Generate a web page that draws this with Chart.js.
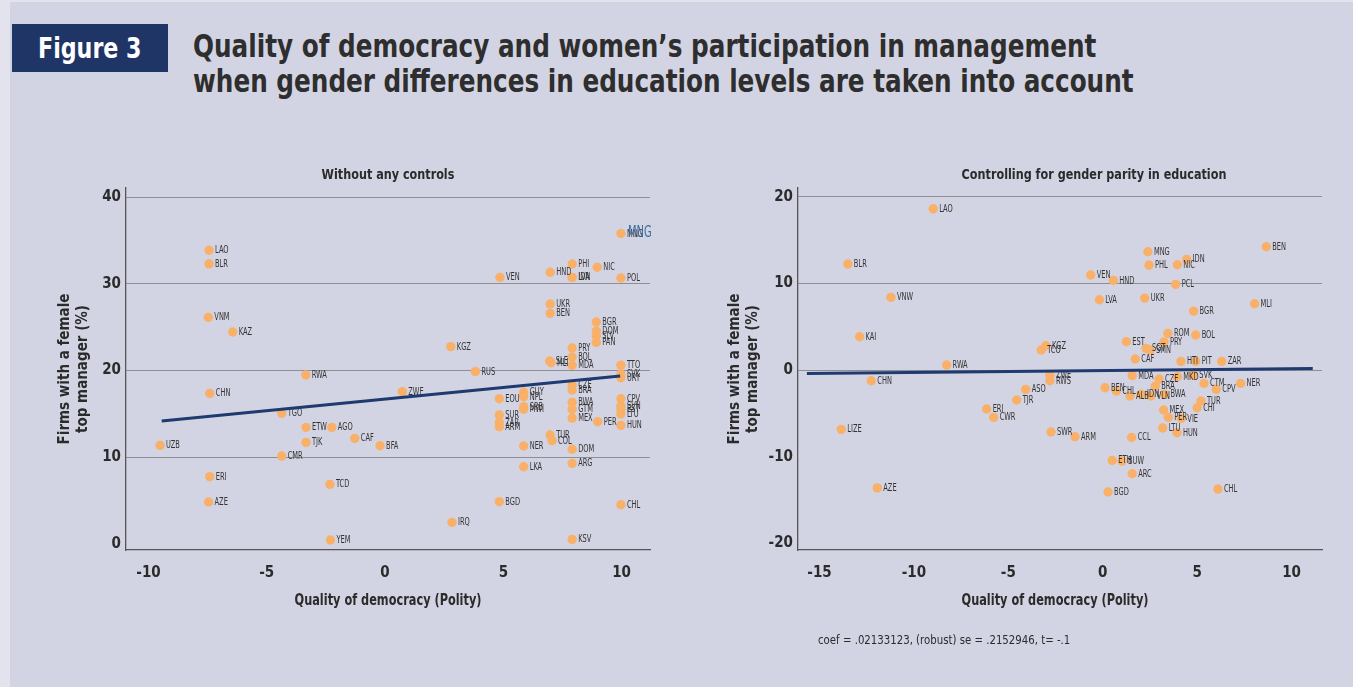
<!DOCTYPE html>
<html>
<head>
<meta charset="utf-8">
<script src="https://cdn.jsdelivr.net/npm/chart.js@4.4.1/dist/chart.umd.min.js"></script>
<style>
  html, body { margin: 0; padding: 0; }
  body { width: 1353px; height: 687px; overflow: hidden; background: #e2e3ec; position: relative;
         font-family: "Liberation Sans Narrow", "DejaVu Sans Condensed", sans-serif; }
  #panel { position: absolute; left: 10px; top: 2px; right: 0; bottom: 0; background: #d3d4e3; }
  #figbox { position: absolute; left: 12px; top: 24px; width: 156px; height: 48px; background: #1f3566; }
  #figbox span { position: absolute; left: 26px; top: 0; color: #fff; font-weight: bold; font-size: 29px;
                 line-height: 48px; white-space: nowrap; transform: scaleX(0.85); transform-origin: 0 50%; }
  #title { position: absolute; left: 193px; top: 29px; color: #2e2e2e; font-weight: bold; font-size: 32px;
           line-height: 35px; white-space: nowrap; transform: scaleX(0.858); transform-origin: 0 0; }
  #note { position: absolute; left: 818px; top: 632px; color: #2b2b2b; font-size: 13px; white-space: nowrap;
          transform: scaleX(0.87); transform-origin: 0 0; }
  canvas { position: absolute; top: 0; }
  #left { left: 0; }
  #right { left: 680px; }
</style>
</head>
<body>
<div id="panel"></div>
<div id="figbox"><span>Figure 3</span></div>
<div id="title">Quality of democracy and women’s participation in management<br>when gender differences in education levels are taken into account</div>
<canvas id="left" width="700" height="687"></canvas>
<canvas id="right" width="673" height="687"></canvas>
<div id="note">coef = .02133123, (robust) se = .2152946, t= -.1</div>
<script>
// ---- Panel A: share of firms with a female top manager vs. Polity score ----
const leftCodes = ['LAO','BLR','VNM','KAZ','RWA','CHN','TGO','ETW','AGO','UZB','TJK','CAF','BFA','CMR','ERI','TCD','AZE','YEM',
  'MNG','PHI','NIC','HND','LVA','IDN','VEN','POL','UKR','BEN','BGR','DOM','SLV','PAN','KGZ','PRY','BOL','SLE','MLI','MDA','TTO',
  'RUS','SVK','URY','ZWE','GUY','NPL','EOU','CZE','BRA','SRB','MWI','BWA','GTM','MEX','PER','CPV','SVN','EST','LTU','HUN',
  'SUR','ZAR','ARM','TUR','COL','NER','DOM','LKA','ARG','BGD','CHL','IRQ','KSV'];
const leftPolity = [-7.44,-7.44,-7.47,-6.44,-3.35,-7.41,-4.37,-3.34,-2.25,-9.51,-3.34,-1.28,-0.21,-4.37,-7.41,-2.33,-7.46,-2.31,
  9.97,7.91,8.97,6.98,7.91,7.91,4.86,9.97,6.98,6.98,8.93,8.93,8.93,8.93,2.78,7.91,7.91,6.96,7.02,7.91,9.97,
  3.82,9.97,9.97,0.73,5.86,5.86,4.83,7.91,7.91,5.86,5.86,7.91,7.91,7.91,8.99,9.97,9.97,9.97,9.97,9.97,
  4.83,4.83,4.83,6.98,7.06,5.86,7.91,5.86,7.91,4.83,9.97,2.83,7.91];
const leftShare = [33.86,32.3,26.13,24.44,19.48,17.37,15.06,13.45,13.45,11.37,11.72,12.18,11.33,10.14,7.76,6.88,4.84,0.46,
  35.8,32.28,31.9,31.32,30.74,30.74,30.74,30.66,27.67,26.59,25.59,24.55,23.98,23.25,22.75,22.59,21.56,21.1,20.9,20.6,20.6,
  19.87,19.6,19.17,17.56,17.49,16.98,16.75,18.33,17.75,15.83,15.53,16.33,15.53,14.52,14.1,16.75,15.91,15.53,14.99,13.68,
  14.87,13.99,13.52,12.56,11.91,11.3,10.92,8.91,9.3,4.88,4.53,2.5,0.54];
const leftFitX = [-9.44, 9.94];
const leftFitY = [14.18, 19.37];
const leftXTicks = [-10, -5, 0, 5, 10];
const leftYTicks = [0, 10, 20, 30, 40];
const leftGridY = [10, 20, 30, 40];

// ---- Panel B: residuals after controlling for gender parity in education ----
const rightCodes = ['LAO','BLR','VNW','KAI','KGZ','TCO','RWA','CHN','ZWE','RWS','ASO','TJR','ERI','CWR','LIZE','SWR','AZE',
  'ARM','CCL','LTU','HUN','ETH','BUW','ARC','BGD','CHL','MNG','BEN','IDN','PHL','NIC','VEN','HND','PCL','LVA','UKR','MLI',
  'BGR','ROM','BOL','EST','PRY','SGT','SMN','CAF','HTI','PIT','ZAR','MDA','CZE','MKD','SVK','CTM','NER','CPV','BRA','BEN',
  'CHL','ALB','IDN','VLN','BWA','TUR','CHI','MEX','PER','VIE'];
const rightPolity = [-8.98,-13.5,-11.22,-12.88,-3.01,-3.26,-8.27,-12.26,-2.8,-2.8,-4.08,-4.56,-6.15,-5.78,-13.85,-2.74,-11.94,
  -1.47,1.53,3.17,3.93,0.5,1.02,1.56,0.28,6.1,2.39,8.66,4.44,2.45,3.95,-0.64,0.56,3.86,-0.18,2.22,8.04,
  4.81,3.45,4.92,1.25,3.24,2.29,2.5,1.72,4.14,4.92,6.3,1.56,2.98,3.95,4.79,5.36,7.3,6.01,2.78,0.12,
  0.72,1.44,2.03,2.54,3.27,5.2,5.0,3.22,3.47,4.16];
const rightResidual = [18.6,12.23,8.38,3.84,2.8,2.31,0.58,-1.23,-0.58,-1.23,-2.23,-3.46,-4.5,-5.46,-6.84,-7.15,-13.6,
  -7.69,-7.77,-6.69,-7.23,-10.42,-10.5,-11.96,-14.07,-13.73,13.65,14.22,12.77,12.11,12.15,10.96,10.34,9.88,8.11,8.3,7.65,
  6.8,4.23,4.04,3.27,3.23,2.5,2.31,1.27,1.0,1.0,1.0,-0.65,-1.04,-0.77,-0.58,-1.54,-1.54,-2.23,-1.85,-2.04,
  -2.42,-3.0,-2.8,-3.0,-2.8,-3.58,-4.35,-4.61,-5.46,-5.58];
const rightCoef = 0.02133123;
const rightIntercept = -0.06;
const rightFitX = [-15.67, 11.12];
const rightXTicks = [-15, -10, -5, 0, 5, 10];
const rightYTicks = [-20, -10, 0, 10, 20];
const rightGridY = [0, 10, 20];

const FONT = '"Liberation Sans Narrow", "DejaVu Sans Condensed", sans-serif';
const TEXT = '#2b2b2b';
const DOT = '#f9b068';
const NAVY = '#1e3a6f';

// Horizontally condensed canvas text
function narrowText(ctx, str, x, y, font, color, squeeze, align) {
  ctx.save();
  ctx.font = font;
  ctx.fillStyle = color;
  ctx.textBaseline = 'middle';
  ctx.textAlign = align || 'left';
  ctx.translate(x, y);
  ctx.scale(squeeze, 1);
  ctx.fillText(str, 0, 0);
  ctx.restore();
}

// Country codes written beside each dot
const pointLabels = {
  id: 'pointLabels',
  afterDatasetDraw(chart, args) {
    const ds = chart.data.datasets[args.index];
    if (!ds.codes) return;
    const ctx = chart.ctx;
    args.meta.data.forEach((pt, i) => {
      narrowText(ctx, ds.codes[i], pt.x + 6, pt.y + 0.5, '10px ' + FONT, '#333', 0.74);
      if (ds.highlight && ds.codes[i] === ds.highlight) {
        narrowText(ctx, ds.codes[i], pt.x + 7, pt.y - 0.5, '15px ' + FONT, '#3e6d9d', 0.74);
      }
    });
  }
};

// Panel heading above the plot area and horizontal axis title below it
const panelText = {
  id: 'panelText',
  afterDraw(chart, args, opts) {
    const ctx = chart.ctx, a = chart.chartArea;
    const cx = (a.left + a.right) / 2;
    narrowText(ctx, opts.title, cx + opts.titleShift, 175, 'bold 14.5px ' + FONT, TEXT, 0.86, 'center');
    narrowText(ctx, opts.xTitle, cx - opts.xTitleShift, 601, 'bold 15px ' + FONT, TEXT, 0.84, 'center');
  }
};

function toPoints(xs, ys) { return xs.map((x, i) => ({ x: x, y: ys[i] })); }

function makeChart(id, cfg) {
  return new Chart(document.getElementById(id), {
    type: 'scatter',
    data: {
      datasets: [
        { data: toPoints(cfg.fitX, cfg.fitY), showLine: true, borderColor: NAVY, borderWidth: 3,
          pointRadius: 0, fill: false },
        { data: toPoints(cfg.xs, cfg.ys), codes: cfg.codes, highlight: cfg.highlight,
          backgroundColor: DOT, borderWidth: 0, pointRadius: 4.7, pointHoverRadius: 4.7 }
      ]
    },
    options: {
      responsive: false, animation: false, events: [],
      layout: { padding: cfg.padding },
      plugins: { legend: { display: false }, tooltip: { enabled: false },
                 panelText: { title: cfg.title, titleShift: cfg.titleShift, xTitleShift: cfg.xTitleShift,
                              xTitle: 'Quality of democracy (Polity)' } },
      scales: {
        x: {
          type: 'linear', min: cfg.xMin, max: cfg.xMax,
          afterBuildTicks: s => { s.ticks = cfg.xTicks.map(v => ({ value: v })); },
          afterFit: s => { s.height = 66; },
          grid: { display: false, drawTicks: false },
          border: { display: true, color: '#555', width: 1.3 },
          ticks: { color: TEXT, padding: 14, font: { family: FONT, size: 15, weight: 'bold' } },
          title: { display: false }
        },
        y: {
          type: 'linear', min: cfg.yMin, max: cfg.yMax,
          afterBuildTicks: s => { s.ticks = cfg.yTicks.map(v => ({ value: v })); },
          afterFit: s => { s.width = 80; },
          grid: { drawTicks: false, lineWidth: 1,
                  color: c => (c.tick && cfg.gridY.includes(c.tick.value)) ? '#8e8e94' : 'rgba(0,0,0,0)' },
          border: { display: true, color: '#555', width: 1.3 },
          ticks: { color: TEXT, padding: 5, font: { family: FONT, size: 15, weight: 'bold' } },
          title: { display: true, text: ['Firms with a female', 'top manager (%)'], color: TEXT,
                   font: { family: FONT, size: 15, weight: 'bold', lineHeight: 1.2 }, padding: { top: cfg.yTitlePad, bottom: 0 } }
        }
      }
    },
    plugins: [pointLabels, panelText]
  });
}

makeChart('left', {
  codes: leftCodes, xs: leftPolity, ys: leftShare, highlight: 'MNG',
  fitX: leftFitX, fitY: leftFitY,
  xMin: -10.95, xMax: 11.2, yMin: -0.69, yMax: 41.04,
  xTicks: leftXTicks, yTicks: leftYTicks, gridY: leftGridY,
  padding: { left: 46, right: 50, top: 188, bottom: 71 }, yTitlePad: 10,
  title: 'Without any controls', titleShift: 0, xTitleShift: 0
});

makeChart('right', {
  codes: rightCodes, xs: rightPolity, ys: rightResidual,
  fitX: rightFitX, fitY: rightFitX.map(x => rightIntercept + rightCoef * x),
  xMin: -16.14, xMax: 11.61, yMin: -20.76, yMax: 21.0,
  xTicks: rightXTicks, yTicks: rightYTicks, gridY: rightGridY,
  padding: { left: 38, right: 31, top: 188, bottom: 71 }, yTitlePad: 8,
  title: 'Controlling for gender parity in education', titleShift: 34, xTitleShift: 5
});
</script>
</body>
</html>
